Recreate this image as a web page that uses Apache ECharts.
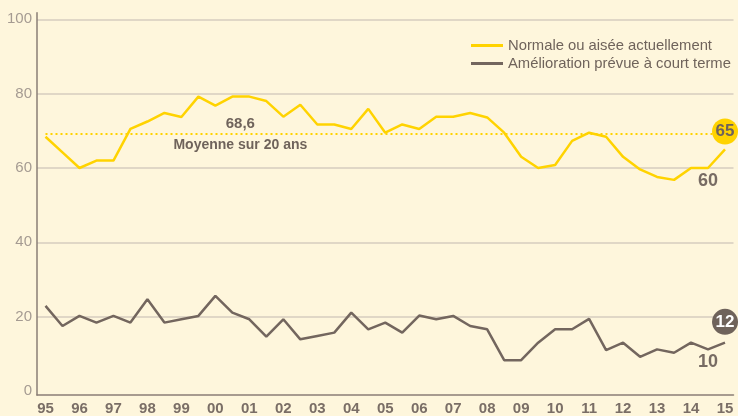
<!DOCTYPE html>
<html>
<head>
<meta charset="utf-8">
<script src="https://cdn.jsdelivr.net/npm/echarts@6/dist/echarts.min.js"></script>
<style>
  html, body { margin: 0; padding: 0; background: #fef6dc; }
  #chart { width: 738px; height: 416px; }
</style>
</head>
<body>
<div id="chart"></div>
<script>
// years shown on the axis, two surveys per year
var years = ['95','96','97','98','99','00','01','02','03','04','05','06','07','08','09','10','11','12','13','14','15'];

// Normale ou aisée actuellement
var normale = [68.4, 64.2, 60, 62, 62, 70.5, 72.5, 74.8, 73.7, 79.2, 76.8, 79.2, 79.2, 78, 73.8,
  77, 71.7, 71.7, 70.5, 75.9, 69.5, 71.7, 70.5, 73.8, 73.8, 74.8, 73.6, 69.5, 63, 60,
  60.8, 67.3, 69.5, 68.4, 63, 59.6, 57.6, 56.8, 60, 60, 65];

// Amélioration prévue à court terme
var amelioration = [22.9, 17.5, 20.2, 18.4, 20.2, 18.4, 24.7, 18.4, 19.3, 20.2, 25.6, 21.1, 19.3, 14.6, 19.3,
  13.9, 14.8, 15.7, 21.1, 16.6, 18.4, 15.7, 20.3, 19.3, 20.2, 17.5, 16.6, 8.3, 8.3, 13,
  16.6, 16.6, 19.4, 11, 13, 9.2, 11.2, 10.3, 13, 11.2, 13];

var moyenne = 69.2;

var categories = [];
years.forEach(function (y, i) {
  categories.push(y);
  if (i < years.length - 1) categories.push('');
});

var yellow = '#ffd300';
var brown = '#73665e';
var font = '"Liberation Sans", Arial, sans-serif';

var chart = echarts.init(document.getElementById('chart'));
chart.setOption({
  backgroundColor: '#fef6dc',
  animation: false,
  textStyle: { fontFamily: font },
  legend: {
    orient: 'vertical',
    left: 471,
    top: 38,
    padding: 0,
    itemWidth: 32,
    itemHeight: 3,
    itemGap: 3,
    icon: 'rect',
    textStyle: { fontSize: 14.8, color: '#6f635b', fontFamily: font },
    data: ['Normale ou aisée actuellement', 'Amélioration prévue à court terme']
  },
  grid: [
    { left: 37, right: 4.5, top: 19.3, bottom: 25 },
    { left: 37, right: 4.5, top: 12.7, bottom: 19.3 }
  ],
  xAxis: [
    { type: 'category', gridIndex: 0, data: categories, boundaryGap: true, show: false },
    {
      type: 'category', gridIndex: 1, data: categories, boundaryGap: true,
      axisLine: { onZero: false, lineStyle: { color: '#8a7e76', width: 1.5 } },
      axisTick: { interval: 0, length: 3, lineStyle: { color: '#8a7e76', width: 1.5 } },
      axisLabel: { interval: 0, margin: 6, color: '#7a6e66', fontSize: 15, fontWeight: 'bold', fontFamily: font }
    }
  ],
  yAxis: [
    {
      type: 'value', gridIndex: 0, min: 0, max: 100, interval: 20,
      axisLine: { show: false }, axisTick: { show: false },
      axisLabel: { margin: 5, color: '#a59b92', fontSize: 15, fontFamily: font },
      splitLine: { showMinLine: false, lineStyle: { color: '#d6cdbf', width: 1.5 } }
    },
    {
      type: 'value', gridIndex: 1,
      axisLine: { show: true, lineStyle: { color: '#8a7e76', width: 1.5 } },
      axisTick: { show: false }, axisLabel: { show: false }, splitLine: { show: false }
    }
  ],
  series: [
    {
      name: 'Normale ou aisée actuellement',
      type: 'line',
      xAxisIndex: 0, yAxisIndex: 0,
      data: normale,
      symbol: 'none',
      lineStyle: { color: yellow, width: 2.5 },
      itemStyle: { color: yellow },
      markLine: {
        silent: true,
        symbol: 'none',
        label: { show: false },
        lineStyle: { color: yellow, width: 2, type: [2, 3] },
        data: [[{ coord: [0, moyenne] }, { coord: [39, moyenne], x: 713 }]]
      },
      markPoint: {
        silent: true,
        data: [
          {
            coord: [40, 69.8], symbol: 'circle', symbolSize: 26,
            itemStyle: { color: yellow },
            label: { show: true, formatter: '65', color: '#6f635b', fontSize: 17, fontWeight: 'bold' }
          },
          {
            coord: [39, 56.6], symbolSize: 0,
            label: { show: true, formatter: '60', color: '#776b63', fontSize: 18, fontWeight: 'bold' }
          },
          {
            coord: [11, 72], symbolSize: 0,
            label: { show: true, formatter: '68,6', offset: [8, 0], color: '#6f635b', fontSize: 15, fontWeight: 'bold' }
          },
          {
            coord: [11, 66.2], symbolSize: 0,
            label: { show: true, formatter: 'Moyenne sur 20 ans', offset: [8, 0], color: '#6f635b', fontSize: 14, fontWeight: 'bold' }
          }
        ]
      }
    },
    {
      name: 'Amélioration prévue à court terme',
      type: 'line',
      xAxisIndex: 0, yAxisIndex: 0,
      data: amelioration,
      symbol: 'none',
      lineStyle: { color: brown, width: 2.5 },
      itemStyle: { color: brown },
      markPoint: {
        silent: true,
        data: [
          {
            coord: [40, 18.6], symbol: 'circle', symbolSize: 26,
            itemStyle: { color: '#6f635b' },
            label: { show: true, formatter: '12', color: '#ffffff', fontSize: 17, fontWeight: 'bold' }
          },
          {
            coord: [39, 7.7], symbolSize: 0,
            label: { show: true, formatter: '10', color: '#776b63', fontSize: 18, fontWeight: 'bold' }
          }
        ]
      }
    }
  ]
});
</script>
</body>
</html>
